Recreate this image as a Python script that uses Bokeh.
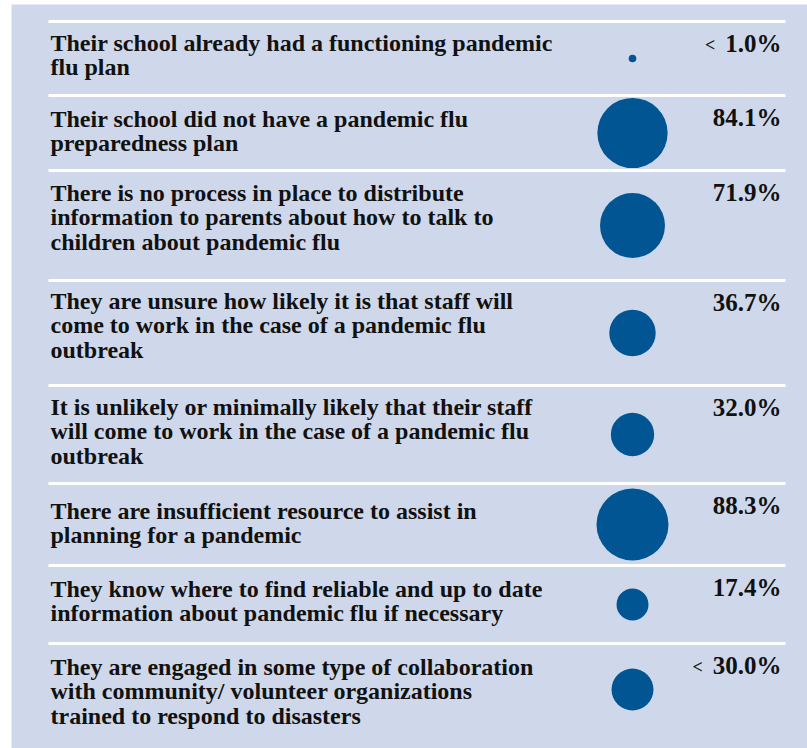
from bokeh.plotting import figure
from bokeh.models import Range1d
from bokeh.core.properties import value
from bokeh.embed import file_html
from bokeh.resources import INLINE
import numpy as np

# ---- data ----
statements = [
    ["Their school already had a functioning pandemic", "flu plan"],
    ["Their school did not have a pandemic flu", "preparedness plan"],
    ["There is no process in place to distribute", "information to parents about how to talk to", "children about pandemic flu"],
    ["They are unsure how likely it is that staff will", "come to work in the case of a pandemic flu", "outbreak"],
    ["It is unlikely or minimally likely that their staff", "will come to work in the case of a pandemic flu", "outbreak"],
    ["There are insufficient resource to assist in", "planning for a pandemic"],
    ["They know where to find reliable and up to date", "information about pandemic flu if necessary"],
    ["They are engaged in some type of collaboration", "with community/ volunteer organizations", "trained to respond to disasters"],
]
values = [1.0, 84.1, 71.9, 36.7, 32.0, 88.3, 17.4, 30.0]
prefixes = ["<", "", "", "", "", "", "", "<"]

# ---- layout (pixels) ----
W, H = 807, 748
row_tops = [21, 95, 170, 280, 385, 483, 565, 643]
row_bottom_last = 735
label_offsets = [27, 29, 28, 26, 27, 33, 29, 29]
LINE_GAP = 24.5
LABEL_SHIFT = -6   # renderer places text baseline below the anchor
VAL_SHIFT = -8
BG = "#cfd8ea"
BLUE = "#005592"
FONT = "Liberation Serif"
LABEL_SIZE = 24
VAL_SIZE = 25

p = figure(width=W, height=H, x_range=Range1d(0, W), y_range=Range1d(H, 0),
           output_backend="svg", toolbar_location=None, min_border=0,
           background_fill_color="white", border_fill_color="white")
p.xaxis.visible = False
p.yaxis.visible = False
p.grid.visible = False
p.outline_line_color = None

# panel
p.quad(left=[11], right=[W], top=[4], bottom=[H], fill_color=BG, line_color=None)

# separators
p.segment(x0=[48] * len(row_tops), x1=[785] * len(row_tops), y0=row_tops, y1=row_tops,
          line_color="white", line_width=3)

# rows
bottoms = row_tops[1:] + [row_bottom_last]
centers = [(t + b) / 2 for t, b in zip(row_tops, bottoms)]

# circles (area proportional to value)
k = 3.83
sizes = [2 * k * np.sqrt(v) for v in values]
p.scatter(x=[632] * len(values), y=centers, size=sizes, fill_color=BLUE, line_color=None)

# statement text
lx, ly, lt = [], [], []
for t, off, lines in zip(row_tops, label_offsets, statements):
    for i, line in enumerate(lines):
        lx.append(50)
        ly.append(t + off + LABEL_SHIFT + i * LINE_GAP)
        lt.append(line)
p.text(x=lx, y=ly, text=lt, text_font=value(FONT), text_font_style="bold",
       text_font_size=f"{LABEL_SIZE}px", text_color="#111111",
       text_align="left", text_baseline="alphabetic")

# values
vy = [t + 30 + VAL_SHIFT for t in row_tops]
vtexts = [f"{v:.1f}%" for v in values]
p.text(x=[781] * len(values), y=vy, text=vtexts,
       text_font=value(FONT), text_font_style="bold", text_font_size=f"{VAL_SIZE}px",
       text_color="#111111", text_align="right", text_baseline="alphabetic")

# small "<" prefixes
cw = {".": 0.25, "%": 1.0}
px, py, pt = [], [], []
for t, pre, vt in zip(row_tops, prefixes, vtexts):
    if pre:
        wdt = sum(cw.get(c, 0.5) for c in vt) * VAL_SIZE
        px.append(781 - wdt - 10)
        py.append(t + 31 + VAL_SHIFT)
        pt.append(pre)
p.text(x=px, y=py, text=pt, text_font=value(FONT), text_font_style="bold",
       text_font_size="18px", text_color="#111111", text_align="right",
       text_baseline="alphabetic")

open("out.html", "w").write(file_html(p, INLINE))
